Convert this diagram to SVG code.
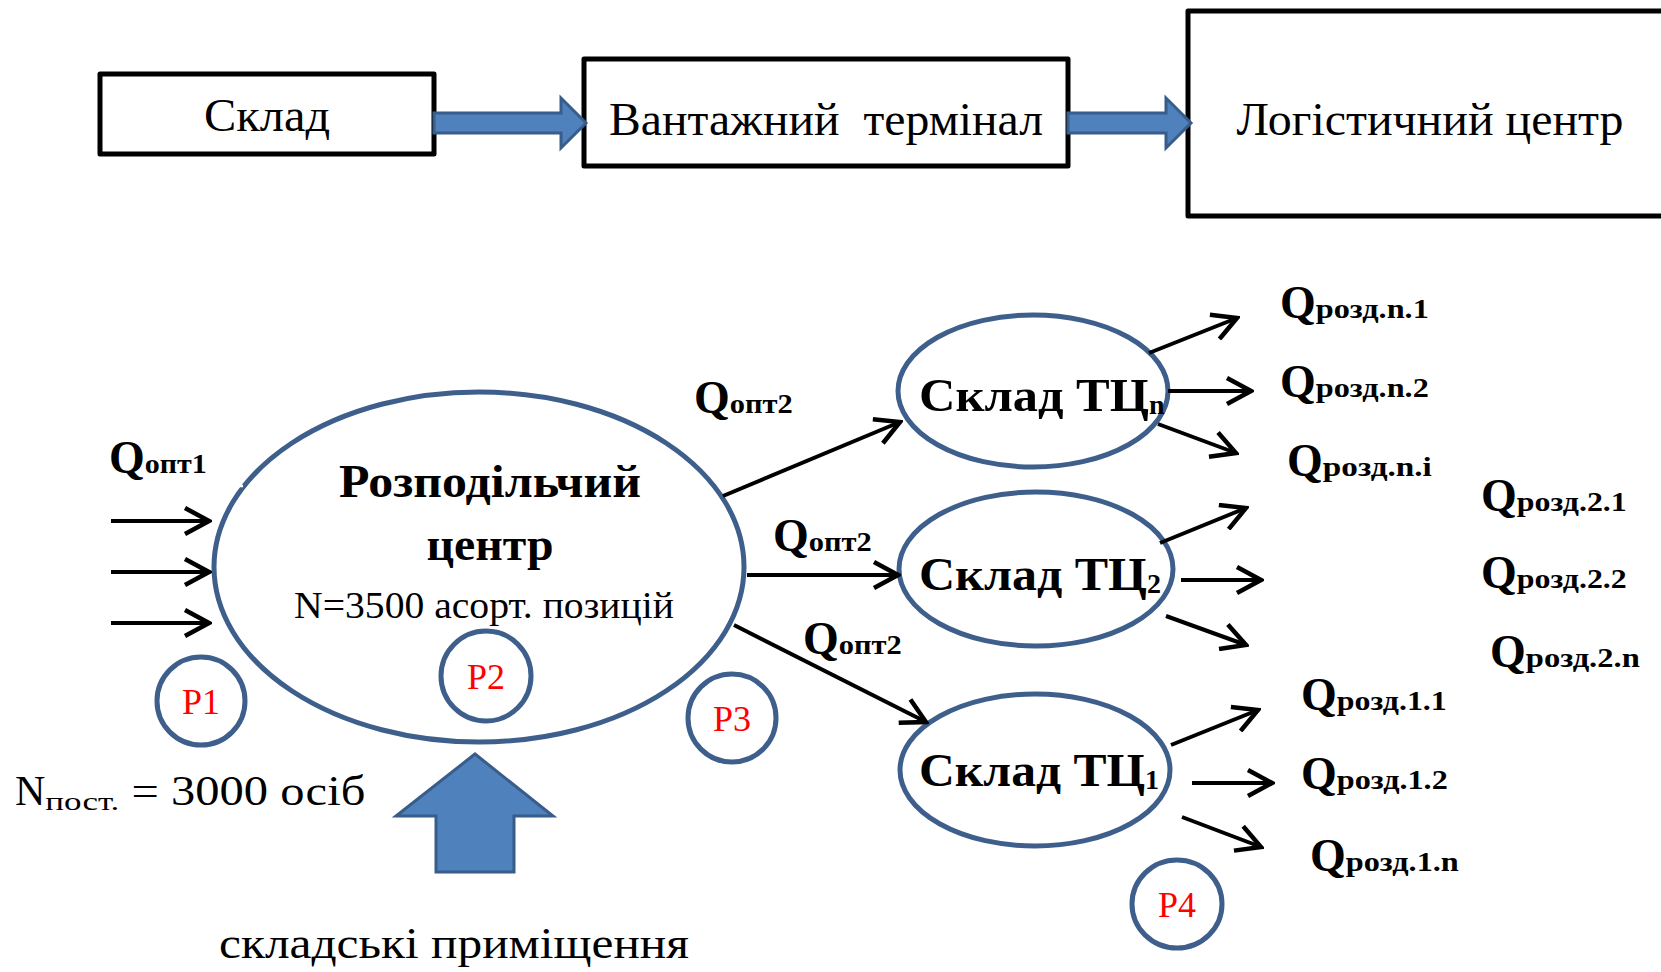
<svg xmlns="http://www.w3.org/2000/svg" width="1661" height="972" viewBox="0 0 1661 972">
  <style>
    .box { fill: #ffffff; stroke: #000000; stroke-width: 5; stroke-linejoin: round; }
    .block { fill: #4f81bd; stroke: #385d8a; stroke-width: 3; stroke-linejoin: miter; }
    .node { fill: #ffffff; stroke: #3e5f8b; stroke-width: 5; }
    .ring { fill: none; stroke: #3e5f8b; stroke-width: 5; }
    .flow { stroke: #000000; stroke-width: 4; fill: none; marker-end: url(#chev); }
    .t { font-family: "Liberation Serif", "DejaVu Serif", "Times New Roman", serif; fill: #000000; }
    .top { font-size: 46px; text-anchor: middle; }
    .b { font-weight: bold; }
    .q { font-size: 46px; font-weight: bold; }
    .sub { font-size: 28px; }
    .p { font-size: 36px; fill: #ff0000; text-anchor: middle; }
    .mid { text-anchor: middle; }
  </style>
  <defs>
    <marker id="chev" viewBox="0 0 30 30" refX="27" refY="15" markerWidth="30" markerHeight="30" markerUnits="userSpaceOnUse" orient="auto">
      <path d="M3,2 L27,15 L3,28" fill="none" stroke="#000000" stroke-width="4.5" stroke-linejoin="miter"/>
    </marker>
  </defs>

  <!-- upper chain -->
  <g id="sklad">
    <rect class="box" x="100" y="74" width="334" height="80"/>
    <text class="t top" x="267" y="131" textLength="126" lengthAdjust="spacingAndGlyphs">Склад</text>
  </g>
  <g id="terminal">
    <rect class="box" x="584" y="59" width="484" height="107"/>
    <text class="t top" x="826" y="135" xml:space="preserve" textLength="434" lengthAdjust="spacingAndGlyphs">Вантажний  термінал</text>
  </g>
  <g id="logistics">
    <rect class="box" x="1188" y="11" width="480" height="205"/>
    <text class="t top" x="1430" y="135" textLength="387" lengthAdjust="spacingAndGlyphs">Логістичний центр</text>
  </g>
  <g id="block-arrows">
    <path class="block" d="M434,113 L561,113 L561,98 L586,123 L561,148 L561,133 L434,133 Z"/>
    <path class="block" d="M1068,113 L1166,113 L1166,98 L1191,123 L1166,148 L1166,133 L1068,133 Z"/>
  </g>

  <!-- distribution centre -->
  <g id="dc">
    <ellipse class="node" cx="479" cy="567" rx="265" ry="175"/>
    <line x1="236" y1="486" x2="243" y2="486" stroke="#ffffff" stroke-width="2.5"/>
    <text class="t b mid" x="490" y="497" font-size="46" textLength="302" lengthAdjust="spacingAndGlyphs">Розподільчий</text>
    <text class="t b mid" x="490" y="560" font-size="46" textLength="127" lengthAdjust="spacingAndGlyphs">центр</text>
    <text class="t mid" x="484" y="618" font-size="38" textLength="380" lengthAdjust="spacingAndGlyphs">N=3500 асорт. позицій</text>
  </g>

  <g id="store-n">
    <ellipse class="node" cx="1033" cy="391" rx="135" ry="76"/>
    <text class="t b" x="919" y="411" font-size="46"><tspan textLength="230" lengthAdjust="spacingAndGlyphs">Склад ТЦ</tspan><tspan font-size="28" dy="3">n</tspan></text>
  </g>
  <g id="store-2">
    <ellipse class="node" cx="1036" cy="569" rx="137" ry="77"/>
    <text class="t b" x="919" y="590" font-size="46"><tspan textLength="228" lengthAdjust="spacingAndGlyphs">Склад ТЦ</tspan><tspan font-size="28" dy="3">2</tspan></text>
  </g>
  <g id="store-1">
    <ellipse class="node" cx="1035" cy="770" rx="135" ry="76"/>
    <text class="t b" x="919" y="786" font-size="46"><tspan textLength="226" lengthAdjust="spacingAndGlyphs">Склад ТЦ</tspan><tspan font-size="28" dy="3">1</tspan></text>
  </g>

  <g id="markers-p">
    <circle class="ring" cx="201" cy="701" r="44"/>
    <text class="t p" x="201" y="714">P1</text>
    <circle class="ring" cx="486" cy="676" r="45"/>
    <text class="t p" x="486" y="689">P2</text>
    <circle class="ring" cx="732" cy="718" r="44"/>
    <text class="t p" x="732" y="731">P3</text>
    <ellipse class="ring" cx="1177" cy="904" rx="45" ry="44"/>
    <text class="t p" x="1177" y="917">P4</text>
  </g>

  <g id="premises">
    <path class="block" d="M475,754 L553,816 L514,816 L514,872 L436,872 L436,816 L396,816 Z"/>
    <text class="t" x="219" y="958" font-size="44" textLength="470" lengthAdjust="spacingAndGlyphs">складські приміщення</text>
  </g>

  <g id="staff">
    <text class="t" x="15" y="805" font-size="42">N<tspan font-size="26" dy="5" textLength="74" lengthAdjust="spacingAndGlyphs">пост.</tspan><tspan dy="-5" xml:space="preserve" textLength="246" lengthAdjust="spacingAndGlyphs"> = 3000 осіб</tspan></text>
  </g>

  <!-- flows -->
  <g id="connectors">
    <line class="flow" x1="111" y1="521" x2="209" y2="521"/>
    <line class="flow" x1="111" y1="572" x2="209" y2="572"/>
    <line class="flow" x1="111" y1="623" x2="209" y2="623"/>

    <line class="flow" x1="723" y1="496" x2="900" y2="422"/>
    <line class="flow" x1="747" y1="575" x2="898" y2="575"/>
    <line class="flow" x1="734" y1="625" x2="926" y2="722"/>

    <line class="flow" x1="1149" y1="353" x2="1237" y2="318"/>
    <line class="flow" x1="1168" y1="391" x2="1251" y2="391"/>
    <line class="flow" x1="1158" y1="424" x2="1236" y2="453"/>

    <line class="flow" x1="1160" y1="543" x2="1246" y2="508"/>
    <line class="flow" x1="1181" y1="580" x2="1261" y2="580"/>
    <line class="flow" x1="1166" y1="616" x2="1246" y2="645"/>

    <line class="flow" x1="1171" y1="745" x2="1258" y2="710"/>
    <line class="flow" x1="1192" y1="783" x2="1272" y2="783"/>
    <line class="flow" x1="1182" y1="817" x2="1261" y2="847"/>
  </g>

  <g id="flow-labels">
    <text class="t q" x="109" y="473">Q<tspan class="sub" textLength="62" lengthAdjust="spacingAndGlyphs">опт1</tspan></text>
    <text class="t q" x="694" y="413">Q<tspan class="sub" textLength="63" lengthAdjust="spacingAndGlyphs">опт2</tspan></text>
    <text class="t q" x="773" y="551">Q<tspan class="sub" textLength="63" lengthAdjust="spacingAndGlyphs">опт2</tspan></text>
    <text class="t q" x="803" y="654">Q<tspan class="sub" textLength="63" lengthAdjust="spacingAndGlyphs">опт2</tspan></text>

    <text class="t q" x="1280" y="318">Q<tspan class="sub" textLength="113" lengthAdjust="spacingAndGlyphs">розд.n.1</tspan></text>
    <text class="t q" x="1280" y="397">Q<tspan class="sub" textLength="113" lengthAdjust="spacingAndGlyphs">розд.n.2</tspan></text>
    <text class="t q" x="1287" y="476">Q<tspan class="sub" textLength="109" lengthAdjust="spacingAndGlyphs">розд.n.i</tspan></text>
    <text class="t q" x="1481" y="511">Q<tspan class="sub" textLength="110" lengthAdjust="spacingAndGlyphs">розд.2.1</tspan></text>
    <text class="t q" x="1481" y="588">Q<tspan class="sub" textLength="110" lengthAdjust="spacingAndGlyphs">розд.2.2</tspan></text>
    <text class="t q" x="1490" y="667">Q<tspan class="sub" textLength="114" lengthAdjust="spacingAndGlyphs">розд.2.n</tspan></text>
    <text class="t q" x="1301" y="710">Q<tspan class="sub" textLength="110" lengthAdjust="spacingAndGlyphs">розд.1.1</tspan></text>
    <text class="t q" x="1301" y="789">Q<tspan class="sub" textLength="111" lengthAdjust="spacingAndGlyphs">розд.1.2</tspan></text>
    <text class="t q" x="1310" y="871">Q<tspan class="sub" textLength="113" lengthAdjust="spacingAndGlyphs">розд.1.n</tspan></text>
  </g>
</svg>
